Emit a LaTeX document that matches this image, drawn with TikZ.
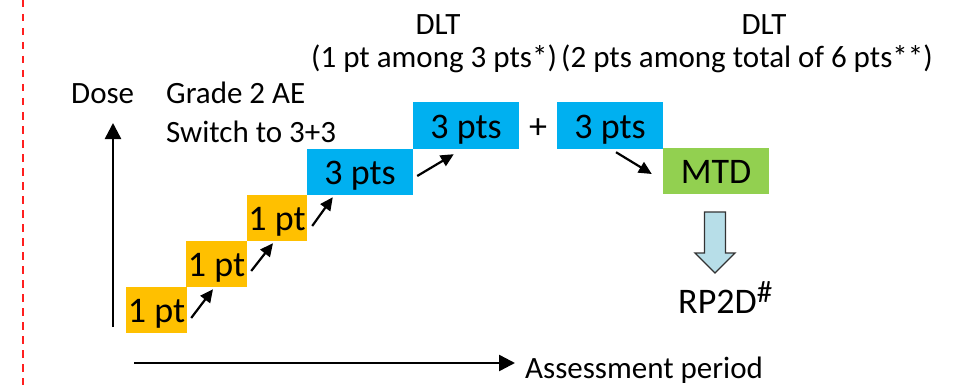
\documentclass[tikz,border=0pt]{standalone}
\usepackage{fontspec}
\setmainfont{Carlito}
\usetikzlibrary{arrows.meta}
\definecolor{doseorange}{HTML}{FFC000}
\definecolor{doseblue}{HTML}{00B0F0}
\definecolor{dosegreen}{HTML}{92D050}
\definecolor{downblue}{HTML}{B7DEE8}
\definecolor{sepred}{HTML}{FF1F1F}

\begin{document}
\begin{tikzpicture}[x=1pt, y=-1pt,
		lbl/.style={inner sep=0pt, font=\fontsize{31pt}{37pt}\selectfont},
		bigtxt/.style={inner sep=0pt, font=\fontsize{36pt}{43pt}\selectfont},
		cohort/.style={bigtxt, minimum height=46pt, text height=25pt, text depth=0pt},
		onept/.style={cohort, fill=doseorange, minimum width=61pt},
		threepts/.style={cohort, fill=doseblue, minimum width=106pt},
		escal/.style={-{Triangle[length=13pt,width=12pt]}, line width=2.2pt},
		axis/.style={-{Triangle[length=16pt,width=16pt]}, line width=2.5pt}]
		\useasboundingbox (0,0) rectangle (976,385);
		\draw[sepred, line width=2pt, dash pattern=on 7.5pt off 6.5pt] (23,0) -- (23,385);
		
		% labels
		\node[lbl, anchor=base west] (dose) at (71,103) {Dose};
		\node[lbl, anchor=base west] (grade) at (166,103) {Grade 2 AE};
		\node[lbl, anchor=base west] (switch) at (166,142) {Switch to 3+3};
		\node[lbl, anchor=base west] (among1) at (311,68) {(1 pt among 3 pts*)};
		\node[lbl, anchor=base west] (among2) at (561,68) {(2 pts among total of 6 pts**)};
		\node[lbl, anchor=base] (dlt1) at (438,35) {DLT};
		\node[lbl, anchor=base] (dlt2) at (764,35) {DLT};
		\node[lbl, anchor=base west] (period) at (525,378) {Assessment period};
		
		% cohorts
		\node[onept] (c1) at (156.5,310) {1 pt};
		\node[onept] (c2) at (216.5,264) {1 pt};
		\node[onept, minimum width=60pt] (c3) at (277,218) {1 pt};
		\node[threepts] (c4) at (360,172) {3 pts};
		\node[threepts, minimum height=47pt] (c5) at (466,125.5) {3 pts};
		\node[cohort] (plus) at (538,125.5) {+};
		\node[threepts, minimum height=47pt] (c6) at (610,125.5) {3 pts};
		\node[cohort, fill=dosegreen, minimum width=106pt] (mtd) at (716,171) {MTD};
		\node[bigtxt, anchor=base west] (rp) at (678,313) {RP2D\raisebox{0.3em}{\fontsize{31pt}{31pt}\selectfont\#}};
		
		% axes
		\coordinate (dosefoot) at (113,327);
		\coordinate (dosetop) at (113,123);
		\coordinate (timefoot) at (134,363);
		\coordinate (timetop) at (515,363);
		\draw[axis] (dosefoot) -- (dosetop);
		\draw[axis] (timefoot) -- (timetop);
		
		\draw[escal] ([shift={(4,8)}]c1.east) -- ([shift={(-3.5,2)}]c2.south);
		\draw[escal] ([shift={(4,7)}]c2.east) -- ([shift={(-4,2)}]c3.south);
		\draw[escal] ([shift={(5,8)}]c3.east) -- ([shift={(26,2)}]c4.south west);
		\draw[escal] ([shift={(4,4)}]c4.east) -- ([shift={(41,5)}]c5.south west);
		\draw[escal] ([shift={(6,3)}]c6.south) -- ([shift={(-11,3)}]mtd.west);
		
		\draw[fill=downblue, draw=black!80, line width=1.3pt] (704.5,212) -- (725.5,212) -- (725.5,253) -- (735,253) -- (715,273) -- (695,253) -- (704.5,253) -- cycle;
	\end{tikzpicture}
\end{document}
